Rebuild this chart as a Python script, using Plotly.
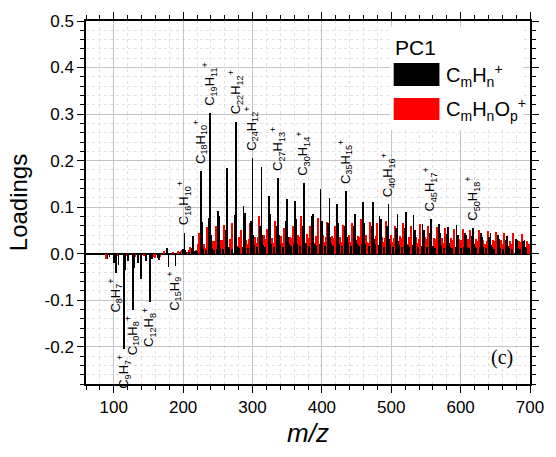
import plotly.graph_objects as go

# ---------------- data ----------------
# main CmHn+ cluster peaks (positive loadings)
CLUSTER_MZ = [202, 214, 226, 239, 250, 263, 276, 287, 300, 313, 324, 337, 350, 361, 374,
              387, 398, 411, 422, 435, 448, 459, 474, 483, 496, 509, 521, 532, 545, 557,
              569, 582, 594, 606, 618, 629, 643, 654, 667, 680, 692]
MAIN_H = [0.045, 0.039, 0.178, 0.303, 0.092, 0.185, 0.284, 0.103, 0.205, 0.187,
          0.125, 0.163, 0.118, 0.114, 0.152, 0.085, 0.140, 0.120, 0.106, 0.135,
          0.085, 0.112, 0.112, 0.080, 0.107, 0.086, 0.090, 0.084, 0.064, 0.075,
          0.064, 0.058, 0.062, 0.045, 0.056, 0.045, 0.045, 0.040, 0.039, 0.032, 0.030]
SIDE_MZ = [200, 212, 228, 237, 252, 261, 274, 289, 298, 311, 326, 335, 348, 363, 372,
           385, 400, 409, 424, 433, 446, 461, 472, 485, 494, 507, 519, 534, 547, 555,
           571, 580, 596, 608, 616, 631, 641, 656, 665, 682, 690]
SIDE_H = [0.010, 0.012, 0.069, 0.077, 0.080, 0.050, 0.084, 0.088, 0.070, 0.060,
          0.085, 0.060, 0.070, 0.075, 0.060, 0.082, 0.070, 0.065, 0.067, 0.060,
          0.060, 0.065, 0.060, 0.075, 0.060, 0.055, 0.055, 0.050, 0.050, 0.045,
          0.045, 0.042, 0.040, 0.040, 0.038, 0.035, 0.035, 0.032, 0.030, 0.030, 0.028]
LOW_BLACK_OFFSETS = [-6, -1, 1, 3]
LOW_BLACK_H = [
    [0.003, 0.004, 0.008, 0.004], [0.004, 0.005, 0.010, 0.005], [0.006, 0.008, 0.030, 0.010],
    [0.008, 0.010, 0.040, 0.012], [0.008, 0.010, 0.030, 0.012], [0.010, 0.012, 0.040, 0.014],
    [0.010, 0.014, 0.045, 0.015], [0.012, 0.014, 0.035, 0.016], [0.012, 0.016, 0.040, 0.018],
    [0.014, 0.016, 0.040, 0.018], [0.014, 0.018, 0.035, 0.020], [0.015, 0.018, 0.040, 0.020],
    [0.015, 0.018, 0.035, 0.020], [0.016, 0.020, 0.035, 0.020], [0.016, 0.020, 0.040, 0.022],
    [0.016, 0.020, 0.032, 0.020], [0.016, 0.020, 0.036, 0.022], [0.016, 0.020, 0.035, 0.020],
    [0.016, 0.020, 0.032, 0.020], [0.016, 0.020, 0.035, 0.022], [0.016, 0.020, 0.030, 0.020],
    [0.016, 0.020, 0.032, 0.020], [0.016, 0.020, 0.032, 0.020], [0.015, 0.018, 0.030, 0.020],
    [0.015, 0.018, 0.032, 0.020], [0.015, 0.018, 0.028, 0.018], [0.014, 0.018, 0.028, 0.018],
    [0.014, 0.018, 0.026, 0.018], [0.014, 0.016, 0.024, 0.016], [0.014, 0.016, 0.025, 0.016],
    [0.013, 0.016, 0.022, 0.016], [0.013, 0.015, 0.022, 0.015], [0.013, 0.015, 0.022, 0.015],
    [0.012, 0.015, 0.020, 0.015], [0.012, 0.014, 0.020, 0.014], [0.012, 0.014, 0.018, 0.014],
    [0.012, 0.014, 0.018, 0.014], [0.011, 0.013, 0.017, 0.013], [0.011, 0.013, 0.016, 0.013],
    [0.010, 0.012, 0.015, 0.012], [0.010, 0.012, 0.015, 0.012]]

# CmHnOp+ peaks
RED_MZ = [198, 210, 223, 235, 247, 259, 271, 284, 296, 309, 321, 333, 346, 358, 370,
          383, 395, 407, 419, 431, 444, 456, 469, 480, 492, 505, 517, 529, 541, 553,
          566, 578, 590, 603, 614, 626, 639, 651, 663, 676, 688]
RED_H = [0.008, 0.015, 0.045, 0.058, 0.060, 0.062, 0.066, 0.050, 0.066, 0.080,
         0.052, 0.071, 0.056, 0.060, 0.080, 0.060, 0.077, 0.069, 0.060, 0.062,
         0.065, 0.075, 0.068, 0.065, 0.070, 0.060, 0.066, 0.060, 0.063, 0.060,
         0.058, 0.055, 0.052, 0.052, 0.050, 0.050, 0.048, 0.046, 0.045, 0.044, 0.042]
RED2_MZ = [206, 218, 230, 243, 254, 267, 280, 291, 304, 317, 328, 341, 354, 365, 378,
           391, 402, 415, 426, 439, 452, 463, 478, 487, 500, 513, 525, 536, 549, 561,
           573, 586, 598, 610, 622, 633, 647, 658, 671, 684, 696]
RED2_H = [0.004, 0.008, 0.020, 0.028, 0.030, 0.032, 0.035, 0.030, 0.036, 0.040,
          0.034, 0.038, 0.036, 0.040, 0.042, 0.038, 0.040, 0.038, 0.036, 0.040,
          0.038, 0.040, 0.038, 0.036, 0.040, 0.038, 0.036, 0.035, 0.036, 0.034,
          0.034, 0.033, 0.032, 0.032, 0.031, 0.030, 0.030, 0.029, 0.028, 0.028, 0.027]
LOW_RED_OFFSETS = [-8, -5, 2, 6]
LOW_RED_H = [
    [0.003, 0.005, 0.003, 0.004], [0.004, 0.008, 0.004, 0.006], [0.008, 0.020, 0.008, 0.012],
    [0.010, 0.025, 0.010, 0.015], [0.012, 0.028, 0.010, 0.016], [0.014, 0.030, 0.012, 0.018],
    [0.015, 0.032, 0.012, 0.020], [0.016, 0.030, 0.012, 0.020], [0.018, 0.032, 0.014, 0.022],
    [0.018, 0.035, 0.014, 0.022], [0.020, 0.032, 0.014, 0.024], [0.020, 0.035, 0.015, 0.024],
    [0.020, 0.034, 0.015, 0.024], [0.020, 0.034, 0.015, 0.025], [0.022, 0.036, 0.016, 0.025],
    [0.022, 0.034, 0.016, 0.025], [0.022, 0.036, 0.016, 0.026], [0.022, 0.035, 0.016, 0.026],
    [0.022, 0.034, 0.016, 0.025], [0.022, 0.035, 0.016, 0.026], [0.022, 0.034, 0.016, 0.025],
    [0.022, 0.035, 0.016, 0.026], [0.022, 0.034, 0.016, 0.025], [0.022, 0.034, 0.016, 0.025],
    [0.022, 0.034, 0.016, 0.025], [0.021, 0.033, 0.016, 0.024], [0.021, 0.033, 0.015, 0.024],
    [0.021, 0.032, 0.015, 0.024], [0.020, 0.032, 0.015, 0.024], [0.020, 0.031, 0.015, 0.023],
    [0.020, 0.031, 0.015, 0.023], [0.020, 0.030, 0.014, 0.023], [0.019, 0.030, 0.014, 0.022],
    [0.019, 0.029, 0.014, 0.022], [0.019, 0.029, 0.014, 0.022], [0.018, 0.028, 0.014, 0.021],
    [0.018, 0.028, 0.013, 0.021], [0.018, 0.027, 0.013, 0.021], [0.017, 0.027, 0.013, 0.020],
    [0.017, 0.026, 0.013, 0.020], [0.017, 0.026, 0.013, 0.020]]

# low-mass region (mostly negative loadings)
NEG_BLACK_MZ = [91, 94, 100, 103, 107, 115, 117, 121, 128, 130, 135, 139, 146, 152, 155,
                163, 165, 177, 179, 189]
NEG_BLACK_H = [-0.012, -0.008, -0.020, -0.041, -0.024, -0.204, -0.035, -0.015, -0.122,
               -0.030, -0.020, -0.054, -0.015, -0.103, -0.012, -0.010, -0.014, 0.012,
               -0.028, -0.026]
NEG_RED_MZ = [89, 105, 119, 131, 143, 157, 160, 167, 172, 185, 193]
NEG_RED_H = [-0.012, -0.006, -0.005, -0.008, -0.006, -0.008, -0.010, -0.008, 0.006,
             0.004, 0.005]

# peak labels
POS_LABELS = ["C<sub>16</sub>H<sub>10</sub><sup>+</sup>", "C<sub>18</sub>H<sub>10</sub><sup>+</sup>",
              "C<sub>19</sub>H<sub>11</sub><sup>+</sup>", "C<sub>22</sub>H<sub>12</sub><sup>+</sup>",
              "C<sub>24</sub>H<sub>12</sub><sup>+</sup>", "C<sub>27</sub>H<sub>13</sub><sup>+</sup>",
              "C<sub>30</sub>H<sub>14</sub><sup>+</sup>", "C<sub>35</sub>H<sub>15</sub><sup>+</sup>",
              "C<sub>40</sub>H<sub>16</sub><sup>+</sup>", "C<sub>45</sub>H<sub>17</sub><sup>+</sup>",
              "C<sub>50</sub>H<sub>18</sub><sup>+</sup>"]
POS_LABEL_MZ = [202, 226, 239, 276, 300, 337, 374, 435, 496, 557, 618]
POS_LABEL_Y = [0.045, 0.178, 0.303, 0.284, 0.205, 0.163, 0.152, 0.135, 0.107, 0.075, 0.056]
NEG_LABELS = ["C<sub>8</sub>H<sub>7</sub><sup>+</sup>", "C<sub>9</sub>H<sub>7</sub><sup>+</sup>",
              "C<sub>10</sub>H<sub>8</sub><sup>+</sup>", "C<sub>12</sub>H<sub>8</sub><sup>+</sup>",
              "C<sub>15</sub>H<sub>9</sub><sup>+</sup>"]
NEG_LABEL_MZ = [103, 115, 128, 152, 189]
NEG_LABEL_Y = [-0.041, -0.204, -0.122, -0.103, -0.026]

X_TICKS = [100, 200, 300, 400, 500, 600, 700]
Y_TICKS = [-0.2, -0.1, 0.0, 0.1, 0.2, 0.3, 0.4, 0.5]
Y_TICK_TEXT = ["-0.2", "-0.1", "0.0", "0.1", "0.2", "0.3", "0.4", "0.5"]

# ---------------- assemble series ----------------
black_x = list(NEG_BLACK_MZ) + list(CLUSTER_MZ) + list(SIDE_MZ)
black_y = list(NEG_BLACK_H) + list(MAIN_H) + list(SIDE_H)
for m, row in zip(CLUSTER_MZ, LOW_BLACK_H):
    for off, v in zip(LOW_BLACK_OFFSETS, row):
        black_x.append(m + off)
        black_y.append(v)

red_x = list(NEG_RED_MZ) + list(RED_MZ) + list(RED2_MZ)
red_y = list(NEG_RED_H) + list(RED_H) + list(RED2_H)
for m, row in zip(CLUSTER_MZ, LOW_RED_H):
    for off, v in zip(LOW_RED_OFFSETS, row):
        red_x.append(m + off)
        red_y.append(v)

FONT = "Arial, Liberation Sans, Helvetica, sans-serif"

fig = go.Figure()
fig.add_trace(go.Bar(x=red_x, y=red_y, width=1.3, marker=dict(color="#ff0000", line=dict(width=0)),
                     name="CmHnOp+", showlegend=False))
fig.add_trace(go.Bar(x=black_x, y=black_y, width=1.1, marker=dict(color="#000000", line=dict(width=0)),
                     name="CmHn+", showlegend=False))

annotations = []
for t, m, v in zip(POS_LABELS, POS_LABEL_MZ, POS_LABEL_Y):
    annotations.append(dict(x=m, y=v, xref="x", yref="y", text=t, textangle=-90, showarrow=False,
                            xanchor="center", yanchor="bottom", yshift=5, xshift=-1,
                            font=dict(family=FONT, size=13, color="black")))
for t, m, v in zip(NEG_LABELS, NEG_LABEL_MZ, NEG_LABEL_Y):
    annotations.append(dict(x=m, y=v, xref="x", yref="y", text=t, textangle=-90, showarrow=False,
                            xanchor="center", yanchor="top", yshift=-4, xshift=-1,
                            font=dict(family=FONT, size=13, color="black")))

# legend (custom drawn)
annotations += [
    dict(x=0.692, y=0.926, xref="paper", yref="paper", text="PC1", showarrow=False,
         xanchor="left", yanchor="middle", font=dict(family=FONT, size=21, color="black")),
    dict(x=0.806, y=0.851, xref="paper", yref="paper",
         text="C<sub>m</sub>H<sub>n</sub><sup>+</sup>", showarrow=False,
         xanchor="left", yanchor="middle", font=dict(family=FONT, size=20, color="black")),
    dict(x=0.806, y=0.757, xref="paper", yref="paper",
         text="C<sub>m</sub>H<sub>n</sub>O<sub>p</sub><sup>+</sup>", showarrow=False,
         xanchor="left", yanchor="middle", font=dict(family=FONT, size=20, color="black")),
    dict(x=0.936, y=0.072, xref="paper", yref="paper", text="(c)", showarrow=False,
         xanchor="center", yanchor="middle",
         font=dict(family="Liberation Serif, Times New Roman, serif", size=20, color="black")),
]

shapes = [
    dict(type="rect", xref="paper", yref="paper", x0=0.685, x1=0.985, y0=0.70, y1=0.985,
         fillcolor="white", line=dict(width=0), layer="above"),
    dict(type="rect", xref="paper", yref="paper", x0=0.693, x1=0.796, y0=0.821, y1=0.884,
         fillcolor="black", line=dict(width=0), layer="above"),
    dict(type="rect", xref="paper", yref="paper", x0=0.693, x1=0.796, y0=0.727, y1=0.788,
         fillcolor="#ff0000", line=dict(width=0), layer="above"),
]

fig.update_layout(
    width=556, height=457,
    margin=dict(l=86, r=20, t=21, b=73),
    paper_bgcolor="white", plot_bgcolor="white",
    barmode="overlay", bargap=0,
    font=dict(family=FONT, color="black"),
    annotations=annotations, shapes=shapes,
    showlegend=False,
)
fig.update_xaxes(
    range=[60, 700], tickvals=X_TICKS, ticks="outside", ticklen=7, tickwidth=1.2,
    tickcolor="black", showline=True, linecolor="black", linewidth=1.5, mirror="allticks",
    showgrid=True, gridcolor="#c4c4c4", gridwidth=1, zeroline=False,
    tickfont=dict(size=17, family=FONT, color="black"),
    minor=dict(dtick=20, tick0=0, ticks="outside", ticklen=4, tickcolor="black",
               showgrid=True, gridcolor="#e2e2e2", griddash="dot", gridwidth=1),
    title=dict(text="<i>m/z</i>", font=dict(size=26, family=FONT, color="black"), standoff=8),
)
fig.update_yaxes(
    range=[-0.28, 0.5], tickvals=Y_TICKS, ticktext=Y_TICK_TEXT, ticks="outside", ticklen=7,
    tickwidth=1.2, tickcolor="black", showline=True, linecolor="black", linewidth=1.5,
    mirror="allticks", showgrid=True, gridcolor="#c4c4c4", gridwidth=1,
    zeroline=True, zerolinecolor="black", zerolinewidth=1.5,
    tickfont=dict(size=17, family=FONT, color="black"),
    minor=dict(dtick=0.02, tick0=0, ticks="outside", ticklen=4, tickcolor="black",
               showgrid=True, gridcolor="#e2e2e2", griddash="dot", gridwidth=1),
    title=dict(text="Loadings", font=dict(size=24, family=FONT, color="black"), standoff=10),
)

fig.write_html("out.html")
